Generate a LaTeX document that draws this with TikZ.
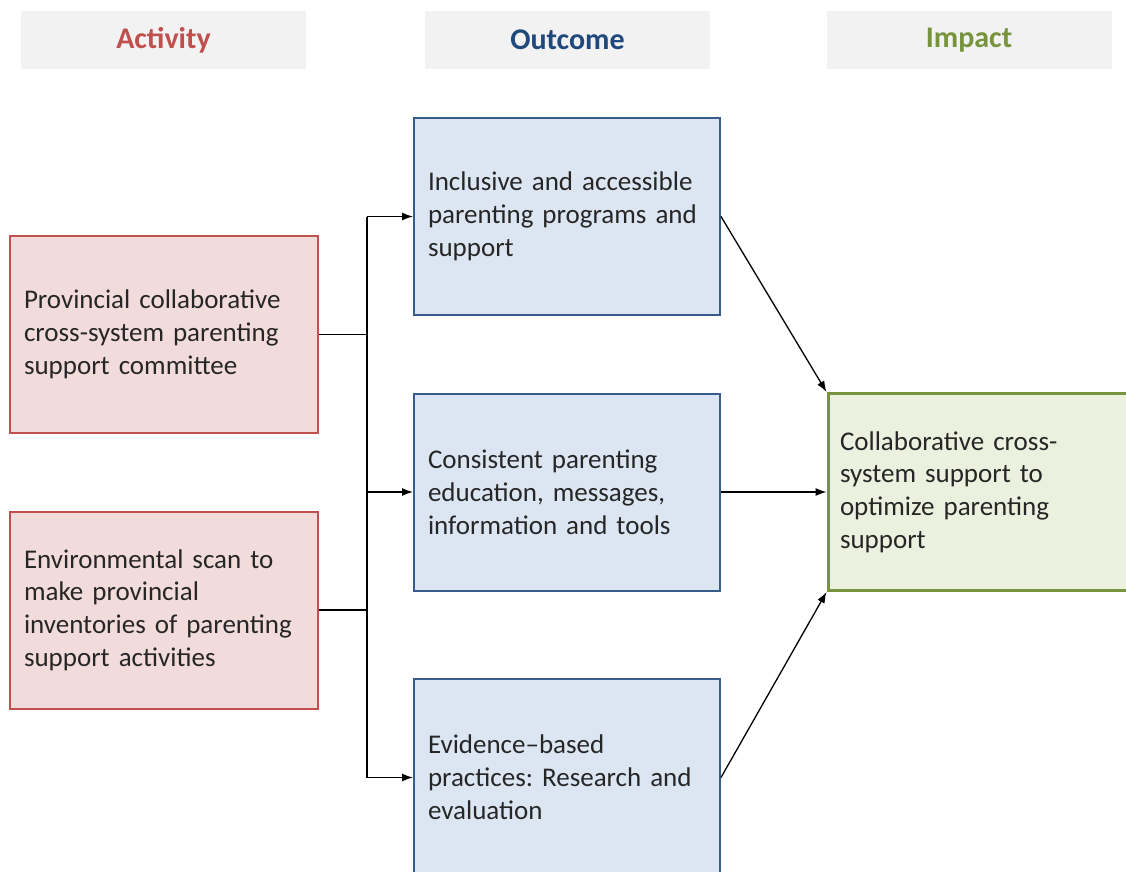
\documentclass[tikz,border=0pt]{standalone}
\usepackage{fontspec}
\setmainfont{Carlito}
\usetikzlibrary{arrows.meta}

\definecolor{actred}{RGB}{192,80,77}
\definecolor{actfill}{RGB}{242,220,219}
\definecolor{outblue}{RGB}{56,93,138}
\definecolor{outtext}{RGB}{31,73,125}
\definecolor{outfill}{RGB}{220,230,242}
\definecolor{impgreen}{RGB}{119,147,60}
\definecolor{impfill}{RGB}{235,241,222}
\definecolor{headfill}{RGB}{242,242,242}

\begin{document}
\frenchspacing
\begin{tikzpicture}
  [x=1pt,y=-1pt,
   header/.style={rectangle,fill=headfill,minimum width=285pt,minimum height=58pt,
     font=\fontsize{30}{34}\selectfont\bfseries},
   box/.style={rectangle,line width=2pt,minimum width=306pt,minimum height=197pt,
     inner sep=0pt,text width=278pt,align=left,text=black!85,
     font=\fontsize{27}{32.8}\selectfont},
   activity/.style={box,draw=actred,fill=actfill,minimum width=308pt,text width=280pt},
   outcome/.style={box,draw=outblue,fill=outfill},
   impact/.style={box,draw=impgreen,fill=impfill,line width=3pt,minimum width=300pt,
     text width=276pt},
   link/.style={line width=1.3pt,black},
   arr/.style={link,-{Latex[length=11pt,width=8pt]}}]
  \useasboundingbox (0,0) rectangle (1126,871);

  % column headings
  \node[header,text=actred] (h1) at (163.5,40) {Activity};
  \node[header,text=outtext] (h2) at (567.5,40) {Outcome};
  \node[header,text=impgreen] (h3) at (969,40) {Impact};

  % activities
  \node[activity] (a1) at (164,334.5) {Provincial collaborative\\cross-system parenting\\support committee};
  \node[activity] (a2) at (164,610) {Environmental scan to\\make provincial\\inventories of parenting\\support activities};

  % outcomes
  \node[outcome] (o1) at (567,216.5) {Inclusive and accessible\\parenting programs and\\support};
  \node[outcome] (o2) at (567,492) {Consistent parenting\\education, messages,\\information and tools};
  \node[outcome] (o3) at (567,777.5) {Evidence--based\\practices: Research and\\evaluation};

  % impact
  \node[impact] (im) at (978,492) {Collaborative cross-\\system support to\\optimize parenting\\support};

  \coordinate (jt) at (367,216.5);
  \coordinate (jb) at (367,777.5);
  \draw[link] (a1.east) -- (a1.east -| jt);
  \draw[link] (a2.east) -- (a2.east -| jt);
  \draw[link] (jt) -- (jb);
  \foreach \o in {o1,o2,o3}
     \draw[arr] (\o.west -| jt) -- (\o.west);

  \foreach \from/\to in {o1.east/im.north west,o2.east/im.west,o3.east/im.south west}
     \draw[arr] (\from) -- (\to);
\end{tikzpicture}
\end{document}
